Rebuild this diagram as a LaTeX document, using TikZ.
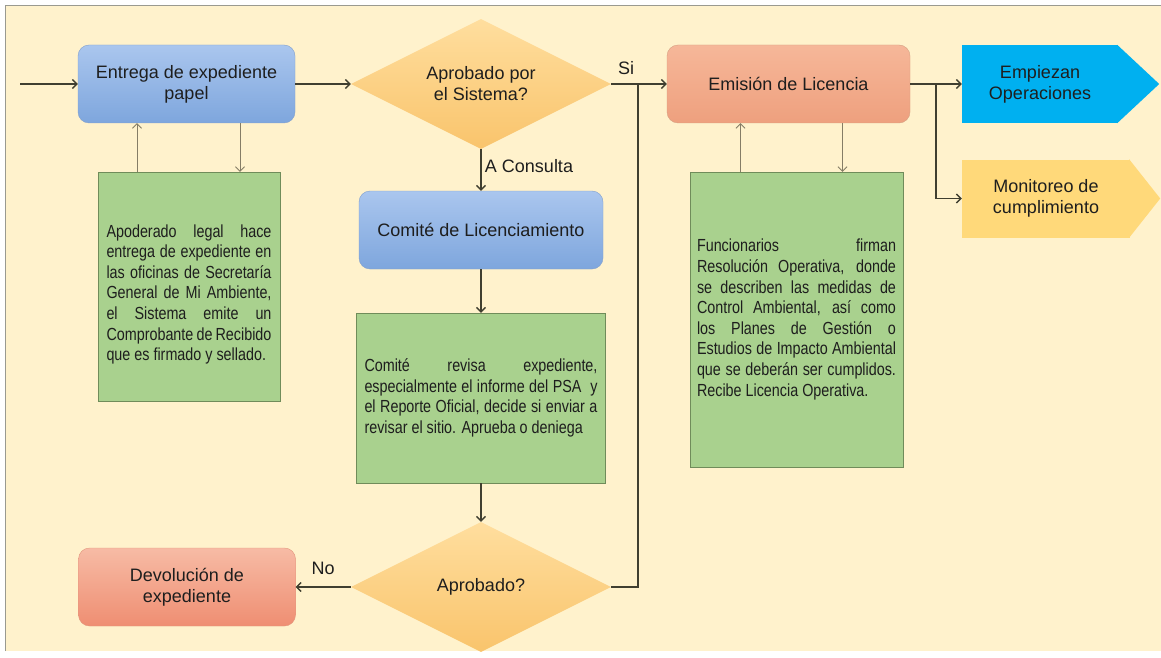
\documentclass[tikz,border=0pt]{standalone}
\usepackage{fontspec}
\setmainfont{Liberation Sans}
\newfontfamily\estrecha[FakeStretch=0.82]{Liberation Sans}
\usetikzlibrary{shapes.geometric,arrows.meta}
\definecolor{fondo}{HTML}{FFF2CC}
\definecolor{borde}{HTML}{9A9A90}
\definecolor{tinta}{HTML}{1E1E1E}
\definecolor{linea}{HTML}{403F30}
\definecolor{fina}{HTML}{857D66}
\definecolor{verde}{HTML}{A9D18E}
\definecolor{verdeborde}{HTML}{708C5A}
\definecolor{cielo}{HTML}{00B0F0}
\definecolor{oro}{HTML}{FFD97A}
\definecolor{azularriba}{HTML}{AAC6EE}
\definecolor{azulabajo}{HTML}{7EA6DD}
\definecolor{azulborde}{HTML}{82A0CD}
\definecolor{salmonarriba}{HTML}{F6B799}
\definecolor{salmonabajo}{HTML}{EEA07E}
\definecolor{salmonborde}{HTML}{D6A082}
\definecolor{rojoarriba}{HTML}{F7BBA5}
\definecolor{rojoabajo}{HTML}{EF8E72}
\definecolor{rojoborde}{HTML}{E2967D}
\definecolor{romboarriba}{HTML}{FFDE9E}
\definecolor{romboabajo}{HTML}{F9C46C}
\begin{document}
\begin{tikzpicture}[x=1pt,y=-1pt, >={Straight Barb[length=4.5pt,width=9pt]},
    every node/.style={font=\fontsize{18}{21}\selectfont, text=tinta},
    caja/.style={rounded corners=11, minimum width=217, minimum height=78, align=center},
    azul/.style={caja, draw=azulborde, top color=azularriba, bottom color=azulabajo},
    salmon/.style={caja, draw=salmonborde, top color=salmonarriba, bottom color=salmonabajo},
    rojo/.style={caja, draw=rojoborde, top color=rojoarriba, bottom color=rojoabajo},
    rombo/.style={diamond, aspect=2, minimum width=260, minimum height=130, inner sep=0, align=center, top color=romboarriba, bottom color=romboabajo},
    nota/.style={rectangle, draw=verdeborde, fill=verde, align=justify, inner sep=0, font=\estrecha\fontsize{17.5}{20.6}\selectfont},
    senal/.style={rectangle, minimum width=156, minimum height=78, align=center},
    flecha/.style={->, draw=linea, line width=1.3},
    fina/.style={->, draw=fina, line width=0.9}]
\useasboundingbox (0,0) rectangle (1161,658);
\fill[fondo] (5,5) rectangle (1161,651);
\draw[borde, line width=0.8] (5,651) -- (5,5) -- (1161,5);

\node[azul] (entrega) at (186.5,84) {Entrega de expediente\\papel};
\node[rombo] (sistema) at (481,84) {Aprobado por\\el Sistema?};
\node[azul, minimum width=244] (comite) at (481,230) {Comité de Licenciamiento};
\node[nota, minimum width=249, minimum height=170, text width=233] (revision) at (481,398) {Comité revisa expediente,\linebreak especialmente el informe del PSA\ \ y\linebreak el Reporte Oficial, decide si enviar a\linebreak revisar el sitio. Aprueba o deniega};
\node[rombo] (aprobado) at (481,587) {Aprobado?};
\node[rojo] (devolucion) at (187,587) {Devolución de\\expediente};
\node[salmon, minimum width=243] (emision) at (788.5,84) {Emisión de Licencia};
\node[nota, minimum width=182, minimum height=229, text width=165] (apoderado) at (189,286.5) {\mbox{}\\[8pt]Apoderado legal hace\linebreak entrega de expediente en\linebreak las oficinas de Secretaría\linebreak General de Mi Ambiente,\linebreak el Sistema emite un\linebreak Comprobante de Recibido\linebreak que es firmado y sellado.};
\node[nota, minimum width=213, minimum height=295, text width=199, xshift=2] (resolucion) at (794.5,319.5) {Funcionarios firman\linebreak Resolución Operativa, donde\linebreak se describen las medidas de\linebreak Control Ambiental, así como\linebreak los Planes de Gestión o\linebreak Estudios de Impacto Ambiental\linebreak que se deberán ser cumplidos.\linebreak Recibe Licencia Operativa.};
\node[senal, fill=cielo] (empiezan) at (1040,84) {Empiezan\\Operaciones};
\fill[cielo] ([xshift=-1]empiezan.north east) -- ([xshift=41]empiezan.east) -- ([xshift=-1]empiezan.south east) -- cycle;
\node[senal, fill=oro, minimum width=168] (monitoreo) at (1046,198.5) {Monitoreo de\\cumplimiento};
\fill[oro] ([xshift=-1]monitoreo.north east) -- ([xshift=30]monitoreo.east) -- ([xshift=-1]monitoreo.south east) -- cycle;

\coordinate (entrada) at (20,84);
\coordinate (union) at (638,84);
\coordinate (rama) at (936,84);

\draw[flecha] (entrada) -- (entrega);
\draw[flecha] (entrega) -- (sistema);
\draw[flecha] (sistema) -- node[above=5, pos=0.27] {Si} (emision);
\draw[flecha] (sistema) -- node[right, pos=0.4] {A Consulta} (comite);
\draw[flecha] (comite) -- (revision);
\draw[flecha] (revision) -- (aprobado);
\draw[flecha] (aprobado) -- node[above=8] {No} (devolucion);
\draw[flecha, -] (aprobado.east) -| (union);
\draw[flecha] (emision) -- (empiezan);
\draw[flecha] (rama) |- (monitoreo);
\draw[fina] ([xshift=-52]apoderado.north) -- ([xshift=-52]apoderado.north |- entrega.south);
\draw[fina] ([xshift=51]apoderado.north |- entrega.south) -- ([xshift=51]apoderado.north);
\draw[fina] ([xshift=-56]resolucion.north) -- ([xshift=-56]resolucion.north |- emision.south);
\draw[fina] ([xshift=46]resolucion.north |- emision.south) -- ([xshift=46]resolucion.north);
\end{tikzpicture}
\end{document}
